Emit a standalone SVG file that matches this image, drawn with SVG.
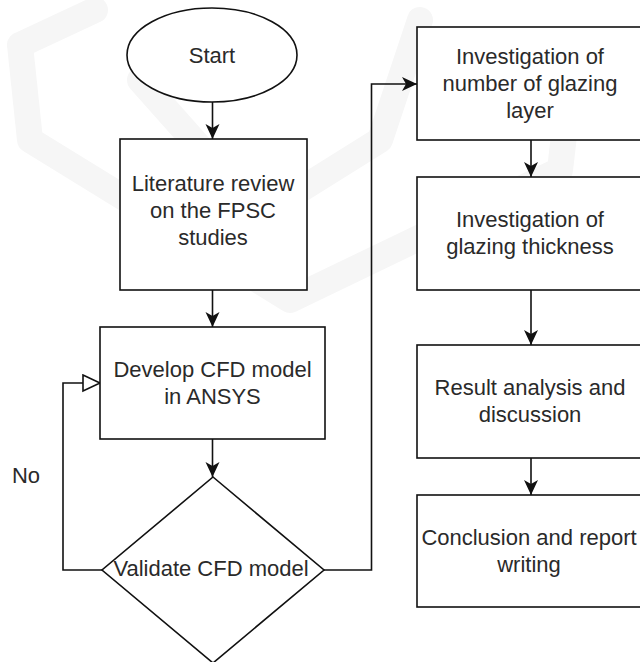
<svg xmlns="http://www.w3.org/2000/svg" width="640" height="662" viewBox="0 0 640 662">
  <style>
    .shape { fill: #ffffff; stroke: #111111; stroke-width: 1.6; }
    .conn { fill: none; stroke: #111111; stroke-width: 1.6; }
    .lbl { font-family: "Liberation Sans", Arial, sans-serif; font-size: 22px; fill: #2a2a2a; text-anchor: middle; }
    .wm { fill: none; stroke: #f6f6f6; stroke-width: 26; stroke-linejoin: round; stroke-linecap: round; }
  </style>
  <defs>
    <marker id="arrow" markerUnits="userSpaceOnUse" markerWidth="16" markerHeight="16" refX="15" refY="7" orient="auto">
      <path d="M0,0 L15,7 L0,14 L4,7 Z" fill="#111111"/>
    </marker>
    <marker id="hollow" markerUnits="userSpaceOnUse" markerWidth="20" markerHeight="20" refX="18" refY="9" orient="auto">
      <path d="M1,1 L18,9 L1,17 Z" fill="#ffffff" stroke="#111111" stroke-width="1.6"/>
    </marker>
  </defs>
  <rect x="0" y="0" width="640" height="662" fill="#ffffff"/>

  <g id="watermark">
    <path class="wm" d="M20,45 L95,10 M20,45 L30,140 L290,300 L560,170 L575,40"/>
    <path class="wm" d="M140,80 L260,215 L380,140 L420,20"/>
  </g>

  <g id="connectors">
    <path class="conn" d="M212.5,102 V139" marker-end="url(#arrow)"/>
    <path class="conn" d="M212.5,290 V327" marker-end="url(#arrow)"/>
    <path class="conn" d="M212.5,439 V477" marker-end="url(#arrow)"/>
    <path class="conn" d="M102,570 H63 V383 H100" marker-end="url(#hollow)"/>
    <path class="conn" d="M324,570 H371.5 V84 H417" marker-end="url(#arrow)"/>
    <path class="conn" d="M531,140 V177" marker-end="url(#arrow)"/>
    <path class="conn" d="M531,290 V345" marker-end="url(#arrow)"/>
    <path class="conn" d="M531,458 V495" marker-end="url(#arrow)"/>
    <text class="lbl" x="26" y="483">No</text>
  </g>

  <g id="start">
    <ellipse class="shape" cx="212" cy="55" rx="85" ry="47"/>
    <text class="lbl" x="212" y="63">Start</text>
  </g>

  <g id="literature">
    <rect class="shape" x="120" y="139" width="187" height="151"/>
    <text class="lbl" x="213" y="191">Literature review</text>
    <text class="lbl" x="213" y="218">on the FPSC</text>
    <text class="lbl" x="213" y="245">studies</text>
  </g>

  <g id="develop">
    <rect class="shape" x="100" y="327" width="225" height="112"/>
    <text class="lbl" x="212.5" y="377">Develop CFD model</text>
    <text class="lbl" x="212.5" y="404">in ANSYS</text>
  </g>

  <g id="validate">
    <polygon class="shape" points="213,477 324,570 213,663 102,570"/>
    <text class="lbl" x="211" y="576">Validate CFD model</text>
  </g>

  <g id="layers">
    <rect class="shape" x="417" y="27" width="228" height="113"/>
    <text class="lbl" x="530" y="64">Investigation of</text>
    <text class="lbl" x="530" y="91">number of glazing</text>
    <text class="lbl" x="530" y="118">layer</text>
  </g>

  <g id="thickness">
    <rect class="shape" x="417" y="177" width="228" height="113"/>
    <text class="lbl" x="530" y="227">Investigation of</text>
    <text class="lbl" x="530" y="254">glazing thickness</text>
  </g>

  <g id="analysis">
    <rect class="shape" x="417" y="345" width="228" height="113"/>
    <text class="lbl" x="530" y="395">Result analysis and</text>
    <text class="lbl" x="530" y="422">discussion</text>
  </g>

  <g id="conclusion">
    <rect class="shape" x="417" y="495" width="228" height="112"/>
    <text class="lbl" x="529" y="545">Conclusion and report</text>
    <text class="lbl" x="529" y="572">writing</text>
  </g>
</svg>
